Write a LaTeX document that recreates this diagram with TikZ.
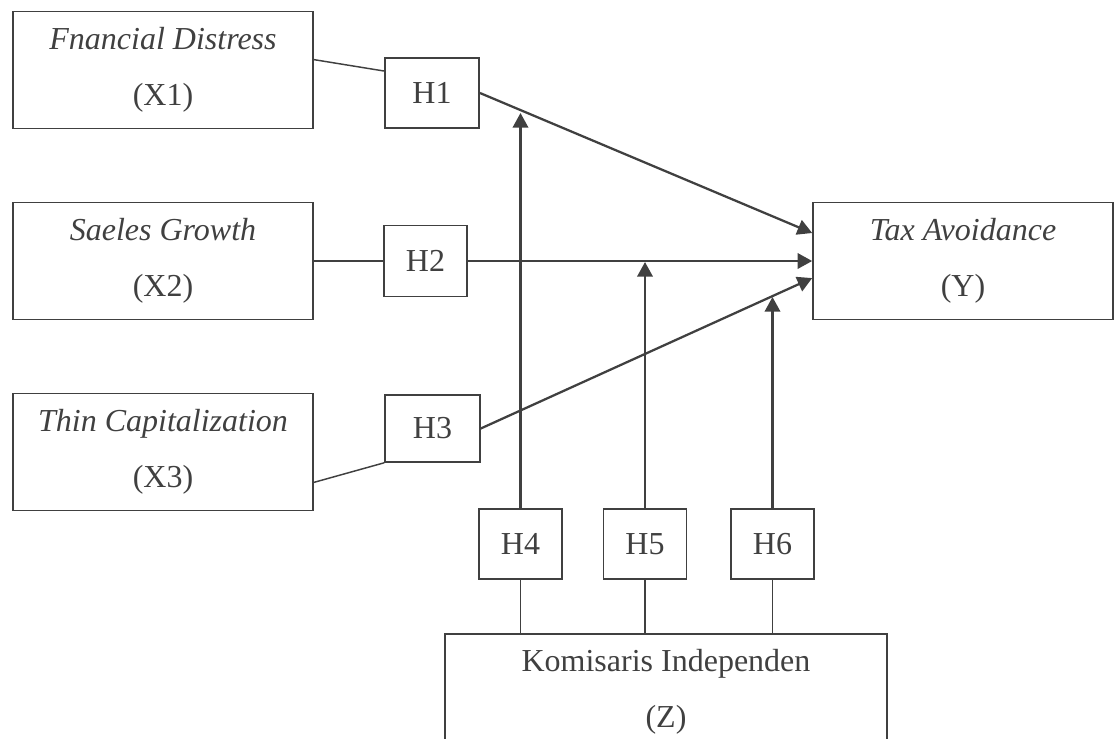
\documentclass[tikz,border=0pt]{standalone}
\usepackage{fontspec}
\setmainfont{Liberation Serif}
\usetikzlibrary{positioning, arrows.meta}
\definecolor{ink}{HTML}{404040}

\begin{document}
\begin{tikzpicture}[x=0.375pt, y=-0.375pt,
		var/.style={draw=ink, line width=0.6pt, inner sep=0pt, align=center, text=ink,
			font=\fontsize{12}{21}\selectfont, minimum width=112.5pt, minimum height=43.9pt},
		hyp/.style={draw=ink, line width=0.6pt, inner sep=0pt, text=ink,
			font=\fontsize{12}{14}\selectfont, minimum width=31.1pt, minimum height=26.3pt},
		link/.style={draw=ink, line width=0.55pt},
		effect/.style={draw=ink, line width=0.85pt, -{Triangle[length=5.5pt, width=5.8pt]}}]
		\useasboundingbox (0,0) rectangle (1119,738);
		\clip (0,0) rectangle (1119,738);

		% Independent variables
		\node[var] (x1) at (163,70) {\textit{Fnancial Distress}\\(X1)};
		\node[var] (x2) at (163,261) {\textit{Saeles Growth}\\(X2)};
		\node[var] (x3) at (163,452) {\textit{Thin Capitalization}\\(X3)};

		% Dependent and moderating variables
		\node[var] (y) at (963,261) {\textit{Tax Avoidance}\\(Y)};
		\node[var, minimum width=165.75pt, minimum height=43.5pt] (z) at (666,692) {Komisaris Independen\\(Z)};

		% Hypotheses
		\node[hyp, minimum width=35.4pt] (h1) at (432,93) {H1};
		\node[hyp, minimum height=26.6pt] (h2) at (425.5,261) {H2};
		\node[hyp, minimum width=35.6pt, minimum height=25.1pt] (h3) at (432.5,428.5) {H3};
		\node[hyp] (h4) at (520.5,544) {H4};
		\node[hyp] (h5) at (645,544) {H5};
		\node[hyp] (h6) at (772.5,544) {H6};

		% Targets of the moderating arrows (on the direct paths)
		\coordinate (t4) at (520.5,113);
		\coordinate (t5) at (645,262);
		\coordinate (t6) at (772.5,297);

		% Variables to hypotheses
		\draw[link] ([yshift=3.9pt]x1.east) -- ([yshift=8.25pt]h1.west);
		\draw[link] (x2.east) -- (h2.west);
		\draw[link] ([yshift=-11.4pt]x3.east) -- (h3.south west);

		% Direct effects
		\draw[effect] (h1.east) -- ([yshift=10.5pt]y.west);
		\draw[effect] (h2.east) -- (y.west);
		\draw[effect] (h3.east) -- ([yshift=-6.4pt]y.west);

		% Moderation
		\draw[effect] (h4.north) -- (t4);
		\draw[effect] (h5.north) -- (t5);
		\draw[effect] (h6.north) -- (t6);
		\draw[link] (h4.south) -- (h4.south |- z.north);
		\draw[link] (h5.south) -- (h5.south |- z.north);
		\draw[link] (h6.south) -- (h6.south |- z.north);
	\end{tikzpicture}
\end{document}
